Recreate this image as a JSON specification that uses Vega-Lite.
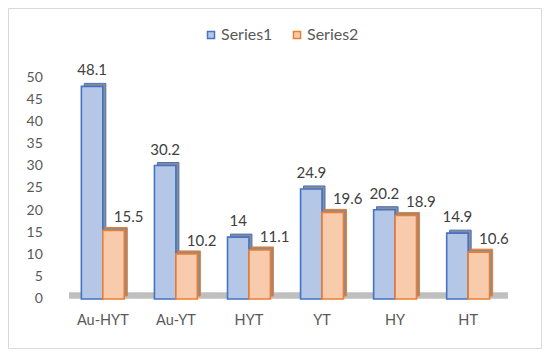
{
  "$schema": "https://vega.github.io/schema/vega-lite/v6.json",
  "width": 533,
  "height": 340,
  "autosize": {"type": "none"},
  "padding": {"left": 8, "top": 8, "right": 9, "bottom": 8},
  "background": "white",
  "config": {
    "view": {"stroke": "#d9d9d9", "strokeWidth": 1},
    "font": "Lato",
    "legend": {"labelFontSize": 16, "labelColor": "#595959", "symbolSize": 49, "columnPadding": 16, "labelOffset": 2, "symbolType": "square", "padding": 0}
  },
  "data": {"values": [
    {"cat": "Au-HYT", "series": "Series1", "value": 48.1},
    {"cat": "Au-HYT", "series": "Series2", "value": 15.5},
    {"cat": "Au-YT", "series": "Series1", "value": 30.2},
    {"cat": "Au-YT", "series": "Series2", "value": 10.2},
    {"cat": "HYT", "series": "Series1", "value": 14},
    {"cat": "HYT", "series": "Series2", "value": 11.1},
    {"cat": "YT", "series": "Series1", "value": 24.9},
    {"cat": "YT", "series": "Series2", "value": 19.6},
    {"cat": "HY", "series": "Series1", "value": 20.2},
    {"cat": "HY", "series": "Series2", "value": 18.9},
    {"cat": "HT", "series": "Series1", "value": 14.9},
    {"cat": "HT", "series": "Series2", "value": 10.6}
  ]},
  "layer": [
    {
      "mark": {"type": "tick", "orient": "horizontal", "color": "#bfbfbf", "size": 73.5, "thickness": 6, "opacity": 1, "xOffset": 3, "yOffset": -3.5},
      "encoding": {
        "x": {"field": "cat", "type": "nominal", "title": null,
              "scale": {"domain": ["Au-HYT", "Au-YT", "HYT", "YT", "HY", "HT"], "paddingInner": 0.413, "paddingOuter": 0.854, "align": 0.588},
              "axis": null},
        "y": {"datum": 0, "type": "quantitative", "title": null, "axis": null}
      }
    },
    {
      "transform": [{"filter": "datum.series === 'Series1'"}],
      "mark": {"type": "bar", "fill": "#8c8c8c", "stroke": "#4472c4", "strokeWidth": 1, "width": 21.5, "xOffset": -7.75, "x2Offset": -7.75, "yOffset": -3, "y2Offset": -3},
      "encoding": {
        "x": {"field": "cat", "type": "nominal", "title": null, "axis": null},
        "y": {"field": "value", "type": "quantitative", "title": null, "axis": null},
        "y2": {"datum": 0}
      }
    },
    {
      "transform": [{"filter": "datum.series === 'Series2'"}],
      "mark": {"type": "bar", "fill": "#8c8c8c", "stroke": "#ed7d31", "strokeWidth": 1, "width": 21.5, "xOffset": 13.75, "x2Offset": 13.75, "yOffset": -3, "y2Offset": -3},
      "encoding": {
        "x": {"field": "cat", "type": "nominal", "title": null, "axis": null},
        "y": {"field": "value", "type": "quantitative", "title": null, "axis": null},
        "y2": {"datum": 0}
      }
    },
    {
      "mark": {"type": "bar", "strokeWidth": 1.6},
      "encoding": {
        "x": {"field": "cat", "type": "nominal", "title": null, "axis": null},
        "xOffset": {"field": "series", "type": "nominal", "scale": {"paddingInner": 0}},
        "y": {"field": "value", "type": "quantitative", "title": null,
              "scale": {"domain": [-11.086, 65.837], "nice": false, "zero": false},
              "axis": null},
        "y2": {"datum": 0},
        "fill": {"field": "series", "type": "nominal", "scale": {"range": ["#b4c7e7", "#f8cbad"]},
                 "legend": {"title": null, "orient": "none", "legendX": 195, "legendY": 19, "direction": "horizontal"}},
        "stroke": {"field": "series", "type": "nominal", "scale": {"range": ["#4472c4", "#ed7d31"]}, "legend": null}
      }
    },
    {
      "transform": [{"filter": "datum.series === 'Series1'"}],
      "mark": {"type": "text", "baseline": "middle", "dy": -16, "fontSize": 15, "color": "#404040"},
      "encoding": {
        "x": {"field": "cat", "type": "nominal", "title": null, "axis": null},
        "xOffset": {"field": "series", "type": "nominal", "scale": {"domain": ["Series1", "Series2"]}},
        "y": {"field": "value", "type": "quantitative", "title": null, "axis": null},
        "text": {"field": "value", "type": "quantitative"}
      }
    },
    {
      "transform": [{"filter": "datum.series === 'Series2'"}],
      "mark": {"type": "text", "baseline": "middle", "dy": -13, "dx": 15, "fontSize": 15, "color": "#404040"},
      "encoding": {
        "x": {"field": "cat", "type": "nominal", "title": null, "axis": null},
        "xOffset": {"field": "series", "type": "nominal", "scale": {"domain": ["Series1", "Series2"]}},
        "y": {"field": "value", "type": "quantitative", "title": null, "axis": null},
        "text": {"field": "value", "type": "quantitative"}
      }
    },
    {
      "transform": [{"filter": "datum.series === 'Series1'"}],
      "mark": {"type": "text", "baseline": "middle", "align": "center", "fontSize": 14.5, "color": "#595959"},
      "encoding": {
        "x": {"field": "cat", "type": "nominal", "title": null, "axis": null},
        "y": {"datum": -5, "type": "quantitative", "title": null, "axis": null},
        "text": {"field": "cat", "type": "nominal"}
      }
    },
    {
      "data": {"values": [
        {"tick": 0}, {"tick": 5}, {"tick": 10}, {"tick": 15}, {"tick": 20}, {"tick": 25},
        {"tick": 30}, {"tick": 35}, {"tick": 40}, {"tick": 45}, {"tick": 50}
      ]},
      "mark": {"type": "text", "baseline": "middle", "align": "right", "dx": -60, "fontSize": 14, "color": "#595959"},
      "encoding": {
        "x": {"datum": "Au-HYT", "type": "nominal", "title": null, "axis": null},
        "y": {"field": "tick", "type": "quantitative", "title": null, "axis": null},
        "text": {"field": "tick", "type": "quantitative"}
      }
    }
  ]
}
